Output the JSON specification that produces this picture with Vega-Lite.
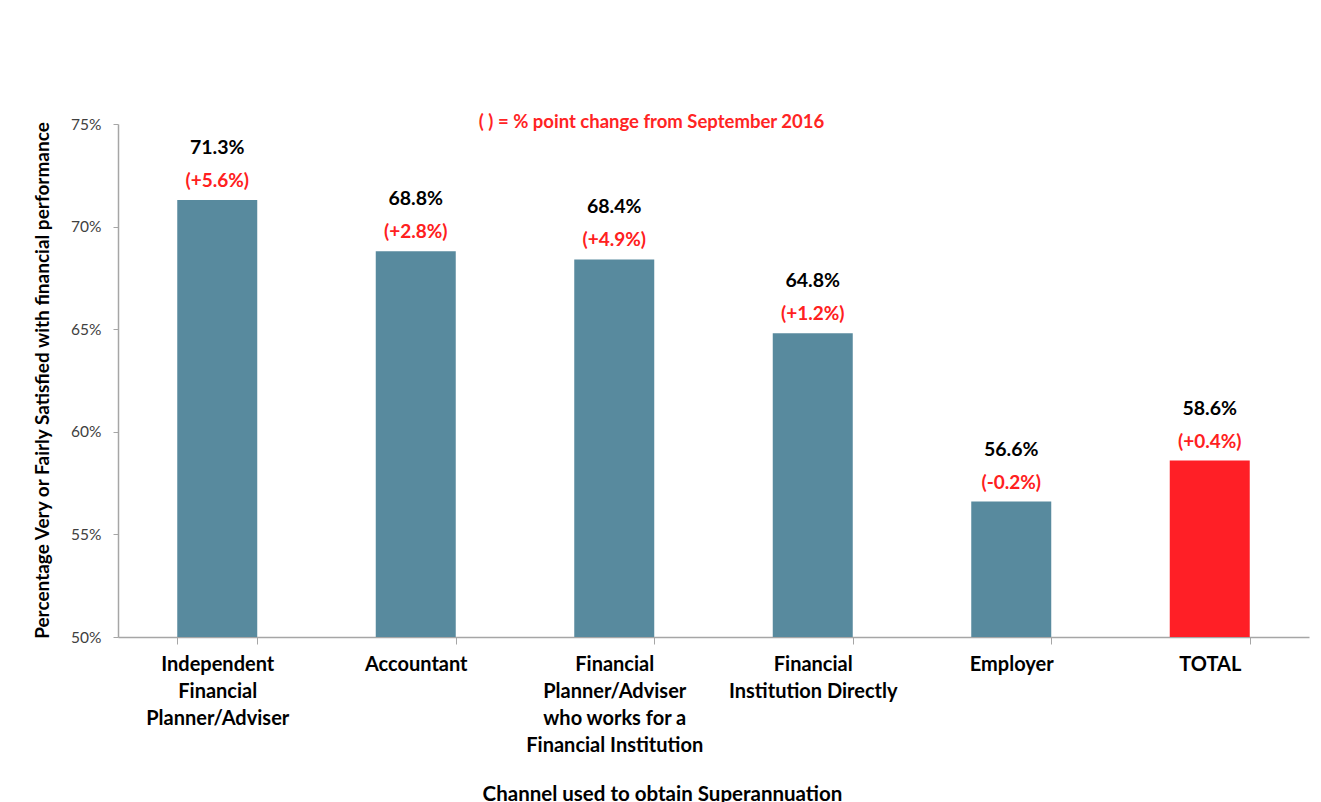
{
  "$schema": "https://vega.github.io/schema/vega-lite/v6.json",
  "width": 1191,
  "height": 513,
  "autosize": {"type": "none"},
  "padding": {"left": 118, "top": 124, "right": 12, "bottom": 165},
  "background": "white",
  "config": {"view": {"stroke": null}, "font": "Lato"},
  "title": {
    "text": "( ) = % point change from September 2016",
    "color": "#FF2424",
    "fontSize": 18.5,
    "fontWeight": "bold",
    "font": "Lato",
    "anchor": "middle",
    "frame": "group",
    "dx": -62,
    "offset": -14
  },
  "data": {
    "values": [
      {"channel": "Independent Financial Planner/Adviser", "value": 0.713, "change": "(+5.6%)", "type": "channel"},
      {"channel": "Accountant", "value": 0.688, "change": "(+2.8%)", "type": "channel"},
      {"channel": "Financial Planner/Adviser who works for a Financial Institution", "value": 0.684, "change": "(+4.9%)", "type": "channel"},
      {"channel": "Financial Institution Directly", "value": 0.648, "change": "(+1.2%)", "type": "channel"},
      {"channel": "Employer", "value": 0.566, "change": "(-0.2%)", "type": "channel"},
      {"channel": "TOTAL", "value": 0.586, "change": "(+0.4%)", "type": "total"}
    ]
  },
  "encoding": {
    "x": {
      "field": "channel",
      "type": "nominal",
      "sort": null,
      "scale": {"paddingInner": 0.597, "paddingOuter": 0.2985},
      "axis": {
        "labelAngle": 0,
        "labelExpr": "datum.value == 'Independent Financial Planner/Adviser' ? ['Independent', 'Financial', 'Planner/Adviser'] : datum.value == 'Financial Planner/Adviser who works for a Financial Institution' ? ['Financial', 'Planner/Adviser', 'who works for a', 'Financial Institution'] : datum.value == 'Financial Institution Directly' ? ['Financial', 'Institution Directly'] : datum.value",
        "labelFont": "Lato",
        "labelFontSize": 20,
        "labelFontWeight": "bold",
        "labelColor": "#000000",
        "labelLineHeight": 27,
        "labelBaseline": "top",
        "labelPadding": 10,
        "labelLimit": 400,
        "tickBand": "extent",
        "tickSize": 7,
        "tickColor": "#A6A6A6",
        "domainColor": "#A6A6A6",
        "domainWidth": 1.5,
        "title": "Channel used to obtain Superannuation",
        "titleFont": "Lato",
        "titleFontSize": 20.5,
        "titleFontWeight": "bold",
        "titleColor": "#000000",
        "titleX": 544,
        "titleY": 157,
        "titleAlign": "center",
        "titleBaseline": "middle"
      }
    }
  },
  "layer": [
    {
      "mark": {"type": "bar"},
      "encoding": {
        "y": {
          "field": "value",
          "type": "quantitative",
          "scale": {"domain": [0.5, 0.75], "zero": false, "nice": false},
          "axis": {
            "values": [0.5, 0.55, 0.6, 0.65, 0.7, 0.75],
            "format": ".0%",
            "grid": false,
            "labelFont": "Lato",
            "labelFontSize": 15.5,
            "labelColor": "#404040",
            "labelPadding": 12,
            "tickSize": 5,
            "tickColor": "#A6A6A6",
            "domainColor": "#A6A6A6",
            "domainWidth": 1.5,
            "title": "Percentage Very or Fairly Satisfied with financial performance",
            "titleFont": "Lato",
            "titleFontSize": 19,
            "titleFontWeight": "bold",
            "titleColor": "#000000",
            "titleAngle": 270,
            "titleX": -76,
            "titleY": 256,
            "titleAlign": "center",
            "titleBaseline": "middle"
          }
        },
        "y2": {"datum": 0.5},
        "color": {
          "field": "type",
          "type": "nominal",
          "scale": {"domain": ["channel", "total"], "range": ["#588A9E", "#FF1F26"]},
          "legend": null
        }
      }
    },
    {
      "mark": {"type": "text", "dy": -52, "font": "Lato", "fontSize": 19.5, "fontWeight": "bold", "color": "#000000", "baseline": "middle"},
      "encoding": {
        "y": {"field": "value", "type": "quantitative"},
        "text": {"field": "value", "type": "quantitative", "format": ".1%"}
      }
    },
    {
      "mark": {"type": "text", "dy": -19, "font": "Lato", "fontSize": 19, "fontWeight": "bold", "color": "#FF2020", "baseline": "middle"},
      "encoding": {
        "y": {"field": "value", "type": "quantitative"},
        "text": {"field": "change", "type": "nominal"}
      }
    }
  ]
}
